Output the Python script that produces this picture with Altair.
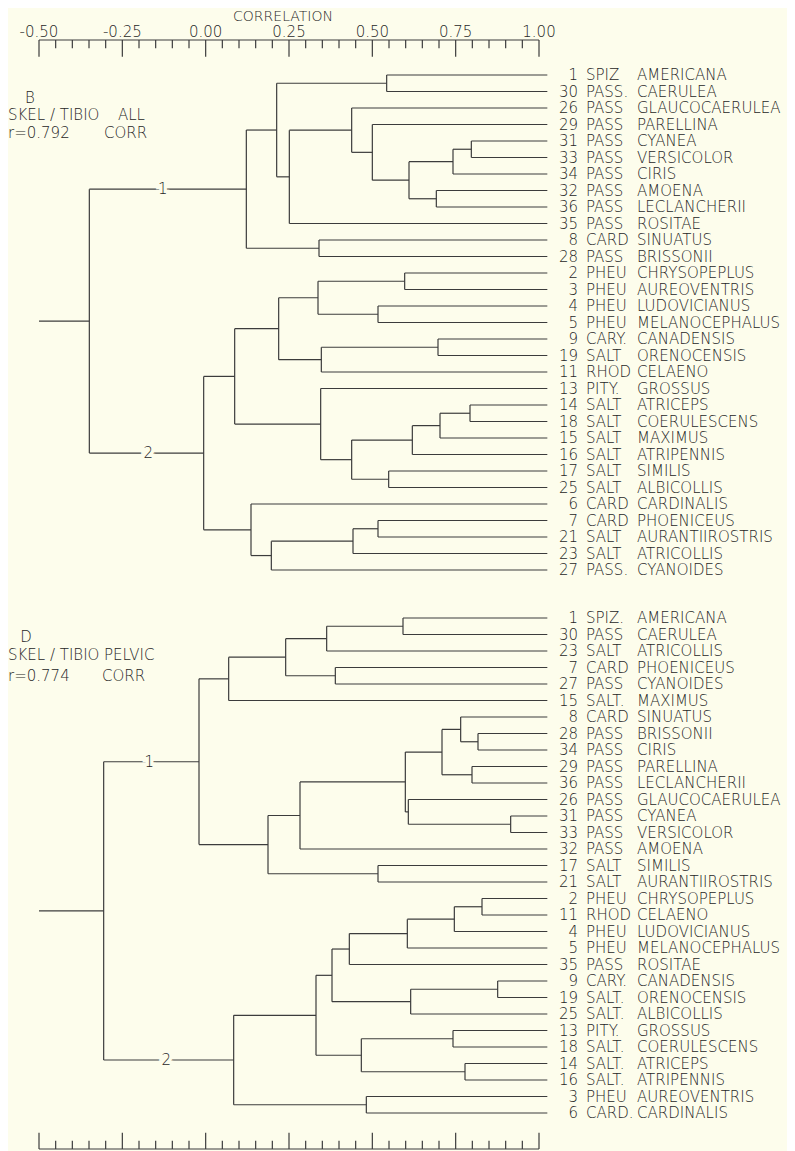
import altair as alt
import pandas as pd

# ---------------- data ----------------
# Panel B  (SKEL/TIBIO ALL, r = 0.792)
B_num = [1, 30, 26, 29, 31, 33, 34, 32, 36, 35, 8, 28, 2, 3, 4, 5, 9, 19, 11, 13,
         14, 18, 15, 16, 17, 25, 6, 7, 21, 23, 27]
B_genus = ["SPIZ", "PASS.", "PASS", "PASS", "PASS", "PASS", "PASS", "PASS", "PASS", "PASS",
           "CARD", "PASS", "PHEU", "PHEU", "PHEU", "PHEU", "CARY.", "SALT", "RHOD", "PITY.",
           "SALT", "SALT", "SALT", "SALT", "SALT", "SALT", "CARD", "CARD", "SALT", "SALT", "PASS."]
B_species = ["AMERICANA", "CAERULEA", "GLAUCOCAERULEA", "PARELLINA", "CYANEA", "VERSICOLOR",
             "CIRIS", "AMOENA", "LECLANCHERII", "ROSITAE", "SINUATUS", "BRISSONII",
             "CHRYSOPEPLUS", "AUREOVENTRIS", "LUDOVICIANUS", "MELANOCEPHALUS", "CANADENSIS",
             "ORENOCENSIS", "CELAENO", "GROSSUS", "ATRICEPS", "COERULESCENS", "MAXIMUS",
             "ATRIPENNIS", "SIMILIS", "ALBICOLLIS", "CARDINALIS", "PHOENICEUS",
             "AURANTIIROSTRIS", "ATRICOLLIS", "CYANOIDES"]
# merges: node ids 31.. in order; children are leaf rows (0..30) or earlier nodes
B_a = [0, 4, 32, 7, 33, 3, 2, 37, 31, 10, 39, 12, 14, 42, 16, 45, 44, 20, 48, 49,
       24, 50, 19, 47, 27, 55, 56, 26, 54, 41]
B_b = [1, 5, 6, 8, 34, 35, 36, 9, 38, 11, 40, 13, 15, 43, 17, 18, 46, 21, 22, 23,
       25, 51, 52, 53, 28, 29, 30, 57, 58, 59]
B_corr = [0.543, 0.797, 0.742, 0.692, 0.610, 0.500, 0.438, 0.251, 0.213, 0.340, 0.122,
          0.597, 0.517, 0.337, 0.697, 0.347, 0.219, 0.793, 0.703, 0.620, 0.549, 0.438,
          0.345, 0.087, 0.517, 0.442, 0.197, 0.136, -0.006, -0.349]
B_groups = {41: ("1", -0.129), 59: ("2", -0.172)}

# Panel D  (SKEL/TIBIO PELVIC, r = 0.774)
D_num = [1, 30, 23, 7, 27, 15, 8, 28, 34, 29, 36, 26, 31, 33, 32, 17, 21, 2, 11, 4,
         5, 35, 9, 19, 25, 13, 18, 14, 16, 3, 6]
D_genus = ["SPIZ.", "PASS", "SALT", "CARD", "PASS", "SALT.", "CARD", "PASS", "PASS", "PASS",
           "PASS", "PASS", "PASS", "PASS", "PASS", "SALT", "SALT", "PHEU", "RHOD", "PHEU",
           "PHEU", "PASS", "CARY.", "SALT.", "SALT.", "PITY.", "SALT.", "SALT.", "SALT.",
           "PHEU", "CARD."]
D_species = ["AMERICANA", "CAERULEA", "ATRICOLLIS", "PHOENICEUS", "CYANOIDES", "MAXIMUS",
             "SINUATUS", "BRISSONII", "CIRIS", "PARELLINA", "LECLANCHERII", "GLAUCOCAERULEA",
             "CYANEA", "VERSICOLOR", "AMOENA", "SIMILIS", "AURANTIIROSTRIS", "CHRYSOPEPLUS",
             "CELAENO", "LUDOVICIANUS", "MELANOCEPHALUS", "ROSITAE", "CANADENSIS",
             "ORENOCENSIS", "ALBICOLLIS", "GROSSUS", "COERULESCENS", "ATRICEPS",
             "ATRIPENNIS", "AUREOVENTRIS", "CARDINALIS"]
D_a = [0, 31, 3, 32, 34, 7, 6, 9, 37, 12, 11, 39, 42, 15, 43, 35, 17, 47, 48, 49,
       22, 51, 50, 25, 27, 54, 53, 29, 57, 46]
D_b = [1, 2, 4, 33, 5, 8, 36, 10, 38, 13, 40, 41, 14, 16, 44, 45, 18, 19, 20, 21,
       23, 24, 52, 26, 28, 55, 56, 30, 58, 59]
D_corr = [0.592, 0.363, 0.389, 0.240, 0.069, 0.817, 0.765, 0.799, 0.709, 0.915, 0.608,
          0.599, 0.283, 0.517, 0.187, -0.020, 0.829, 0.746, 0.605, 0.431, 0.876, 0.615,
          0.379, 0.742, 0.778, 0.467, 0.331, 0.482, 0.084, -0.306]
D_groups = {46: ("1", -0.169), 59: ("2", -0.118)}

TICK_MAJOR = [-0.50, -0.25, 0.00, 0.25, 0.50, 0.75, 1.00]
TICK_LABELS = ["-0.50", "-0.25", "0.00", "0.25", "0.50", "0.75", "1.00"]

# ---------------- layout ----------------
W, H = 779, 1143
PXU = 333.333          # pixels per correlation unit
ROWPX = 16.5           # pixels per leaf row
X0 = -0.5 - 31 / PXU   # domain start
X1 = X0 + W / PXU
Y0 = 1 - 67 / ROWPX
Y1 = Y0 + H / ROWPX

def px2v(px):   # page x -> correlation units
    return X0 + (px - 8) / PXU

def py2r(py):   # page y -> row units
    return Y0 + (py - 8) / ROWPX

BG = "#fdfdec"
INK = "#3c3c3c"
TINK = "#262626"
FONT = "DejaVu Sans"
FS = 15
FW = 200
LEAF_END = 1.025
ROOT_START = -0.5
ROW0_B = 1.0
ROW0_D = py2r(618)

xs = alt.Scale(domain=[X0, X1], nice=False, zero=False)
ys = alt.Scale(domain=[Y0, Y1], nice=False, zero=False, reverse=True)


def build(nums, genus, species, a, b, corr, groups, row0):
    n = len(nums)
    ypos = {i: row0 + i for i in range(n)}
    xpos = {i: LEAF_END for i in range(n)}
    segs, glabels = [], []
    for k, (ca, cb, c) in enumerate(zip(a, b, corr)):
        nid = n + k
        ypos[nid] = (ypos[ca] + ypos[cb]) / 2
        xpos[nid] = c
        segs.append(dict(x=c, x2=c, y=ypos[ca], y2=ypos[cb]))
        segs.append(dict(x=c, x2=xpos[ca], y=ypos[ca], y2=ypos[ca]))
        segs.append(dict(x=c, x2=xpos[cb], y=ypos[cb], y2=ypos[cb]))
    root = n + len(a) - 1
    segs.append(dict(x=ROOT_START, x2=xpos[root], y=ypos[root], y2=ypos[root]))
    for nid, (lab, gx) in groups.items():
        glabels.append(dict(x=gx, y=ypos[nid], t=lab))
    leaves = pd.DataFrame(dict(num=[str(v) for v in nums], genus=genus, species=species,
                               y=[row0 + i for i in range(n)]))
    return segs, glabels, leaves


sB, gB, lB = build(B_num, B_genus, B_species, B_a, B_b, B_corr, B_groups, ROW0_B)
sD, gD, lD = build(D_num, D_genus, D_species, D_a, D_b, D_corr, D_groups, ROW0_D)

segs = pd.DataFrame(sB + sD)
glab = pd.DataFrame(gB + gD)
leaves = pd.concat([lB, lD], ignore_index=True)
leaves["xn"] = px2v(578)
leaves["xg"] = px2v(586)
leaves["xs"] = px2v(637)

# axes (top with labels, bottom ticks only)
ticks = []
for i in range(31):
    v = round(-0.5 + 0.05 * i, 2)
    major = i % 5 == 0
    ticks.append(dict(x=v, x2=v, y=py2r(40), y2=py2r(56.7 if major else 48.3)))
    ticks.append(dict(x=v, x2=v, y=py2r(1149), y2=py2r(1132.7 if major else 1140.7)))
ticks.append(dict(x=-0.5, x2=1.0, y=py2r(40), y2=py2r(40)))
ticks.append(dict(x=-0.5, x2=1.0, y=py2r(1149), y2=py2r(1149)))
ticks = pd.DataFrame(ticks)
tlab = pd.DataFrame(dict(x=TICK_MAJOR, t=TICK_LABELS, y=[py2r(31.5)] * len(TICK_MAJOR)))

ann = pd.DataFrame([
    dict(x=px2v(30), y=py2r(98), t="B", al="center"),
    dict(x=px2v(8), y=py2r(115), t="SKEL / TIBIO", al="left"),
    dict(x=px2v(118), y=py2r(115), t="ALL", al="left"),
    dict(x=px2v(8), y=py2r(132.5), t="r=0.792", al="left"),
    dict(x=px2v(104), y=py2r(132.5), t="CORR", al="left"),
    dict(x=px2v(26), y=py2r(637), t="D", al="center"),
    dict(x=px2v(8), y=py2r(655), t="SKEL / TIBIO", al="left"),
    dict(x=px2v(104), y=py2r(655), t="PELVIC", al="left"),
    dict(x=px2v(8), y=py2r(675.5), t="r=0.774", al="left"),
    dict(x=px2v(102), y=py2r(675.5), t="CORR", al="left"),
])
title = pd.DataFrame(dict(x=[px2v(283)], y=[py2r(17)], t=["CORRELATION"]))

X = lambda f: alt.X(f, type="quantitative", scale=xs, axis=None)
Y = lambda f: alt.Y(f, type="quantitative", scale=ys, axis=None)

rules = alt.Chart(segs).mark_rule(color=INK, strokeWidth=1.2).encode(
    x=X("x"), x2="x2", y=Y("y"), y2="y2")
axrules = alt.Chart(ticks).mark_rule(color=INK, strokeWidth=1.2).encode(
    x=X("x"), x2="x2", y=Y("y"), y2="y2")

txt = dict(font=FONT, fontSize=FS, fontWeight=FW, color=TINK, baseline="middle")
num_t = alt.Chart(leaves).mark_text(align="right", **txt).encode(x=X("xn"), y=Y("y"), text="num")
gen_t = alt.Chart(leaves).mark_text(align="left", **txt).encode(x=X("xg"), y=Y("y"), text="genus")
spe_t = alt.Chart(leaves).mark_text(align="left", **txt).encode(x=X("xs"), y=Y("y"), text="species")

glab_bg = alt.Chart(glab).mark_text(font=FONT, fontSize=FS, fontWeight=FW, fill=BG, stroke=BG,
                                    strokeWidth=7, baseline="middle", align="center").encode(
    x=X("x"), y=Y("y"), text="t")
glab_t = alt.Chart(glab).mark_text(align="center", **txt).encode(x=X("x"), y=Y("y"), text="t")

tick_t = alt.Chart(tlab).mark_text(align="center", **txt).encode(x=X("x"), y=Y("y"), text="t")
title_t = alt.Chart(title).mark_text(align="center", font=FONT, fontSize=14, fontWeight=FW,
                                     color=TINK, baseline="middle").encode(
    x=X("x"), y=Y("y"), text="t")
ann_l = alt.Chart(ann[ann.al == "left"]).mark_text(align="left", **txt).encode(
    x=X("x"), y=Y("y"), text="t")
ann_c = alt.Chart(ann[ann.al == "center"]).mark_text(align="center", **txt).encode(
    x=X("x"), y=Y("y"), text="t")

chart = alt.layer(rules, axrules, glab_bg, glab_t, num_t, gen_t, spe_t, tick_t, title_t,
                  ann_l, ann_c).properties(
    width=W, height=H, padding=0,
    autosize=alt.AutoSizeParams(type="none"),
    background=BG,
).configure_view(strokeWidth=0)

chart.save("out.html", embed_options={"renderer": "svg", "actions": False})
